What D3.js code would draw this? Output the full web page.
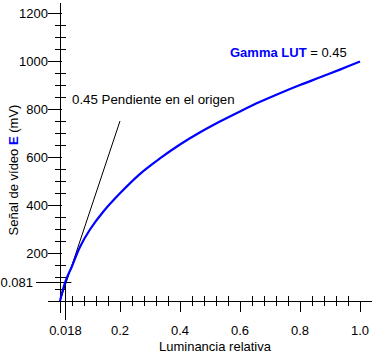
<!DOCTYPE html>
<html><head><meta charset="utf-8">
<script src="https://cdn.jsdelivr.net/npm/d3@7"></script>
<style>body{margin:0;background:#fff}svg{display:block}text{font-family:"Liberation Sans",Arial,sans-serif;font-size:13px}</style>
</head><body><div id="chart"></div>
<script>
// Data
const luminance = [0, 0.018, 0.04, 0.067, 0.1, 0.144, 0.2, 0.267, 0.333, 0.4, 0.467, 0.533, 0.6, 0.667, 0.733, 0.8, 0.867, 0.933, 1.0];
const signalMV  = [0, 81, 145, 226, 298, 372, 449, 530, 594, 652, 703, 748, 790, 830, 866, 900, 932, 964, 998];
const tangentL  = [0, 0.2];
const tangentMV = [0, 750];
const xMajorTicks = [0.2, 0.4, 0.6, 0.8, 1.0];
const xMajorLabels = ["0.2", "0.4", "0.6", "0.8", "1.0"];
const yMajorTicks = [200, 400, 600, 800, 1000, 1200];
const breakL = 0.018, breakMV = 81, breakLabelY = "0.081", breakLabelX = "0.018";

const W = 382, H = 361;
const svg = d3.select("#chart").append("svg").attr("width", W).attr("height", H);
const x = d3.scaleLinear().domain([0, 1]).range([60, 360]);
const y = d3.scaleLinear().domain([0, 1200]).range([301, 13]);

// axes lines
svg.append("line").attr("x1", x(0) + 0.5).attr("x2", x(0) + 0.5).attr("y1", 3).attr("y2", y(0) + 12).attr("stroke", "#000");
svg.append("line").attr("x1", x(0) - 12).attr("x2", 372).attr("y1", y(0) + 0.5).attr("y2", y(0) + 0.5).attr("stroke", "#000");

// y ticks
const yMinor = d3.range(50, 1201, 50).filter(v => v % 200 !== 0);
svg.selectAll(".ymin").data(yMinor).enter().append("line")
  .attr("x1", x(0) - 5).attr("x2", x(0) + 6).attr("y1", d => Math.round(y(d)) + 0.5).attr("y2", d => Math.round(y(d)) + 0.5).attr("stroke", "#000");
svg.selectAll(".ymaj").data(yMajorTicks).enter().append("line")
  .attr("x1", x(0) - 12).attr("x2", x(0) + 2).attr("y1", d => Math.round(y(d)) + 0.5).attr("y2", d => Math.round(y(d)) + 0.5).attr("stroke", "#000");
svg.selectAll(".ylab").data(yMajorTicks).enter().append("text")
  .attr("x", x(0) - 12).attr("y", d => y(d) + 5).attr("text-anchor", "end").text(d => d);

// x ticks
const xMinor = d3.range(1, 26).map(i => i * 0.04).filter(v => Math.abs(v / 0.2 - Math.round(v / 0.2)) > 1e-6);
svg.selectAll(".xmin").data(xMinor).enter().append("line")
  .attr("x1", d => Math.round(x(d)) + 0.5).attr("x2", d => Math.round(x(d)) + 0.5).attr("y1", y(0) - 5).attr("y2", y(0) + 5).attr("stroke", "#000");
svg.selectAll(".xmaj").data(xMajorTicks).enter().append("line")
  .attr("x1", d => Math.round(x(d)) + 0.5).attr("x2", d => Math.round(x(d)) + 0.5).attr("y1", y(0)).attr("y2", y(0) + 11).attr("stroke", "#000");
svg.selectAll(".xlab").data(xMajorTicks).enter().append("text")
  .attr("x", d => x(d)).attr("y", 335).attr("text-anchor", "middle").text((d, i) => xMajorLabels[i]);

// break guides
svg.append("line").attr("x1", 36).attr("x2", x(breakL) + 6).attr("y1", Math.round(y(breakMV)) + 0.5).attr("y2", Math.round(y(breakMV)) + 0.5).attr("stroke", "#000");
svg.append("line").attr("x1", Math.round(x(breakL)) + 0.5).attr("x2", Math.round(x(breakL)) + 0.5).attr("y1", y(breakMV)).attr("y2", 320).attr("stroke", "#000");
svg.append("text").attr("x", 33).attr("y", y(breakMV) + 5).attr("text-anchor", "end").text(breakLabelY);
svg.append("text").attr("x", x(breakL)).attr("y", 335).attr("text-anchor", "middle").text(breakLabelX);

// tangent
svg.append("path").datum(tangentL.map((l, i) => [l, tangentMV[i]]))
  .attr("d", d3.line().x(d => x(d[0])).y(d => y(d[1]))).attr("fill", "none").attr("stroke", "#000").attr("stroke-width", 1);

// curve
svg.append("path").datum(luminance.map((l, i) => [l, signalMV[i]]))
  .attr("d", d3.line().curve(d3.curveCatmullRom).x(d => x(d[0])).y(d => y(d[1])))
  .attr("fill", "none").attr("stroke", "#0000ff").attr("stroke-width", 2.2);

// annotations
svg.append("text").attr("x", 72).attr("y", 104).style("font-size", "13.3px").text("0.45 Pendiente en el origen");
const g = svg.append("text").attr("x", 230).attr("y", 57);
g.append("tspan").attr("fill", "#0000ff").attr("font-weight", "bold").text("Gamma LUT");
g.append("tspan").text(" = 0.45");

// axis titles
svg.append("text").attr("x", 215).attr("y", 351).attr("text-anchor", "middle").text("Luminancia relativa");
const yt = svg.append("text").attr("transform", "translate(18,170) rotate(-90)").attr("text-anchor", "middle");
yt.append("tspan").text("Señal de vídeo ");
yt.append("tspan").attr("fill", "#0000ff").attr("font-weight", "bold").text("E");
yt.append("tspan").text(" (mV)");
</script></body></html>
